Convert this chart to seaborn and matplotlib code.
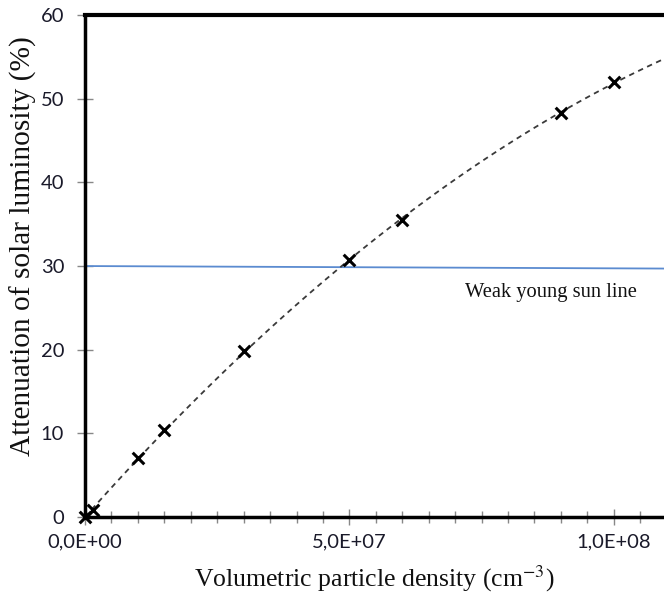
import numpy as np
import pandas as pd
import matplotlib
matplotlib.use("Agg")
import matplotlib.pyplot as plt
from matplotlib.ticker import MultipleLocator, FuncFormatter
import seaborn as sns

density = [0.0, 1.5e6, 1.0e7, 1.5e7, 3.0e7, 5.0e7, 6.0e7, 9.0e7, 1.0e8]
attenuation = [0.0, 0.8, 7.0, 10.4, 19.9, 30.7, 35.5, 48.3, 52.0]

# weak young sun reference line (start / end)
sun_x = [0.0, 1.095e8]
sun_y = [30.0, 29.7]

x_ticks = [0.0, 5.0e7, 1.0e8]
y_ticks = [0, 10, 20, 30, 40, 50, 60]

df = pd.DataFrame({"density": density, "attenuation": attenuation})

sns.set_style("ticks")
plt.rcParams["mathtext.fontset"] = "stix"

fig = plt.figure(figsize=(6.64, 6.03), dpi=100)
ax = fig.add_axes([0.128, 0.1426, 0.872, 0.8324])
ax.set_xlim(0, 1.095e8)
ax.set_ylim(0, 60)

# blue horizontal line
sns.lineplot(x=sun_x, y=sun_y, ax=ax, color="#5b8bd0", linewidth=1.3)

# quadratic trend + markers
sns.regplot(data=df, x="density", y="attenuation", ax=ax, order=2, ci=None,
            truncate=False, scatter=False,
            line_kws={"color": "#3a3a3a", "linestyle": (0, (3, 2.5)), "linewidth": 1.3})
sns.scatterplot(data=df, x="density", y="attenuation", ax=ax, marker="x",
                s=70, color="black", linewidth=2.2, clip_on=False, zorder=5)

ax.text(7.18e7, 26.8, "Weak young sun line", family="Liberation Serif",
        fontsize=14.8, va="center", ha="left", color="#111111")

ax.set_xticks(x_ticks)
ax.set_yticks(y_ticks)
ax.xaxis.set_minor_locator(MultipleLocator(5e6))
ax.xaxis.set_major_formatter(FuncFormatter(
    lambda v, p: ("%.1E" % v).replace(".", ",")))

for lbl in ax.get_xticklabels() + ax.get_yticklabels():
    lbl.set_family("Lato")
    lbl.set_fontsize(14.5)
    lbl.set_color("#1a1a2a")

ax.tick_params(axis="y", which="major", direction="inout", length=12,
               width=1, color="#888888", pad=9)
ax.tick_params(axis="x", which="major", direction="inout", length=12,
               width=1, color="#888888", pad=6)
ax.tick_params(axis="x", which="minor", direction="inout", length=8,
               width=1, color="#888888")

ax.set_xlabel("Volumetric particle density (cm$^{-3}$)", family="Liberation Serif",
              fontsize=18.5, labelpad=9, color="#111111")
ax.set_ylabel("Attenuation of solar luminosity (%)", family="Liberation Serif",
              fontsize=21.2, color="#111111")
ax.yaxis.set_label_coords(-0.083, 0.54)

ax.spines["right"].set_visible(False)
ax.spines["top"].set_linewidth(3)
ax.spines["left"].set_linewidth(2.5)
ax.spines["bottom"].set_linewidth(2.5)
for s in ["top", "left", "bottom"]:
    ax.spines[s].set_color("black")

fig.savefig("out.png", dpi=100)
